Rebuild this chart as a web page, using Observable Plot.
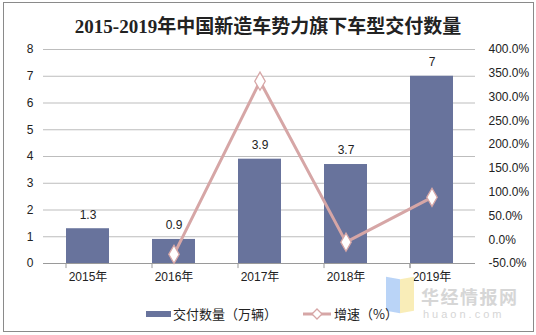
<!DOCTYPE html>
<html><head><meta charset="utf-8">
<script src="https://cdn.jsdelivr.net/npm/d3@7"></script>
<script src="https://cdn.jsdelivr.net/npm/@observablehq/plot@0.6"></script>
<style>
body{margin:0;background:#fff;font-family:"Liberation Sans","Noto Sans CJK SC",sans-serif;}
#wrap{position:relative;width:536px;height:335px;overflow:hidden;}
#frame{position:absolute;left:3px;top:2px;width:529px;height:328px;border:1px solid #8a8a8a;}
#title{position:absolute;top:11px;left:0;width:536px;text-align:center;font-family:"Liberation Serif","Noto Sans CJK SC",serif;font-weight:bold;font-size:19px;color:#222;}
#chart{position:absolute;top:40px;left:0;}
#legend{position:absolute;top:304px;left:0;width:536px;font-size:13px;color:#222;}
.wm{position:absolute;color:#d6d6d6;font-family:"Noto Sans CJK SC",sans-serif;line-height:1;}
</style></head>
<body><div id="wrap"><div id="frame"></div>
<div id="title">2015-2019年中国新造车势力旗下车型交付数量</div>
<div id="chart"></div>
<div class="wm" style="left:386px;top:278px;width:14px;height:34px;background:#a9c9f5;opacity:0.8;transform:skewY(10deg)"></div>
<div class="wm" style="left:400px;top:278px;width:14px;height:34px;background:#f7e9a6;opacity:0.8;transform:skewY(-10deg)"></div>
<div class="wm" style="left:421px;top:287px;font-size:18px;font-weight:bold;letter-spacing:1.5px;">华经情报网</div>
<div class="wm" style="left:423px;top:309px;font-size:11px;letter-spacing:3px;font-family:'Liberation Sans',sans-serif;">huaon.com</div>
<div id="legend">
<svg width="536" height="20" style="position:absolute;left:0;top:0">
<rect x="146" y="7" width="25" height="6" fill="#68739c"/>
<text x="173" y="14.5" font-size="13" fill="#222" font-family="Noto Sans CJK SC,sans-serif">交付数量（万辆）</text>
<line x1="303" y1="10" x2="331" y2="10" stroke="#d6a6a6" stroke-width="3"/>
<path d="M317,5 L322,10 L317,15 L312,10 Z" fill="#fff" stroke="#d6a6a6" stroke-width="1.3"/>
<text x="334" y="14.5" font-size="13" fill="#222" font-family="Noto Sans CJK SC,sans-serif">增速（%）</text>
</svg>
</div>
</div>
<script>
const years = ["2015年","2016年","2017年","2018年","2019年"];
const deliveries = [1.3, 0.9, 3.9, 3.7, 7];
const growth = [null, -30.8, 333.3, -5.1, 89.2];
const leftTicks = [0,1,2,3,4,5,6,7,8];
const rightTicks = [-50,0,50,100,150,200,250,300,350,400];

const gMin = -50, gMax = 400, yMax = 8;
const toY = g => (g - gMin) / (gMax - gMin) * yMax;

const bars = years.map((y,i) => ({year:y, v:deliveries[i]}));
const pts = years.map((y,i) => ({year:y, g:growth[i]})).filter(d => d.g != null).map(d => ({...d, yy: toY(d.g)}));
const rt = rightTicks.map(g => ({g, yy: toY(g)}));
const bounds = years.map(y => ({year:y, dx:-43.2})).concat([{year:years[years.length-1], dx:43.2}]);

const lineColor = "#d6a6a6";
const plot = Plot.plot({
  width: 536, height: 253,
  marginTop: 9, marginBottom: 30, marginLeft: 43, marginRight: 61,
  style: {fontFamily: "Liberation Sans, Noto Sans CJK SC, sans-serif", fontSize: "12px", color: "#222", background: "transparent"},
  x: {domain: years, paddingInner: 0.5, paddingOuter: 0.25, label: null},
  y: {domain: [0, yMax], label: null},
  marks: [
    Plot.gridY(leftTicks.filter(d => d > 0), {stroke: "#bdbdbd", strokeOpacity: 1}),
    Plot.axisY(leftTicks, {anchor: "left", tickSize: 0, tickPadding: 10, label: null, fill: "#222"}),
    Plot.axisY(rt.map(d => d.yy), {anchor: "right", tickSize: 0, tickPadding: 13, label: null, fill: "#222",
      tickFormat: (d, i) => rightTicks[i].toFixed(1) + "%"}),
    Plot.barY(bars, {x: "year", y: "v", fill: "#68739c"}),
    Plot.ruleY([0], {stroke: "#9a9a9a"}),
    Plot.ruleX(bounds, {x: "year", dx: d => d.dx, y1: 0, y2: -0.19, stroke: "#9a9a9a"}),
    Plot.axisX({tickSize: 0, tickPadding: 9, label: null, fill: "#222"}),
    Plot.text(bars, {x: "year", y: "v", text: d => String(d.v), dy: -14, fill: "#222", fontSize: 12}),
    Plot.line(pts, {x: "year", y: "yy", stroke: lineColor, strokeWidth: 3}),
    Plot.dot(pts, {x: "year", y: "yy", symbol: "diamond", r: 5.5, fill: "#fff", stroke: lineColor, strokeWidth: 1.3})
  ]
});
document.getElementById("chart").appendChild(plot);
</script>
</body></html>
